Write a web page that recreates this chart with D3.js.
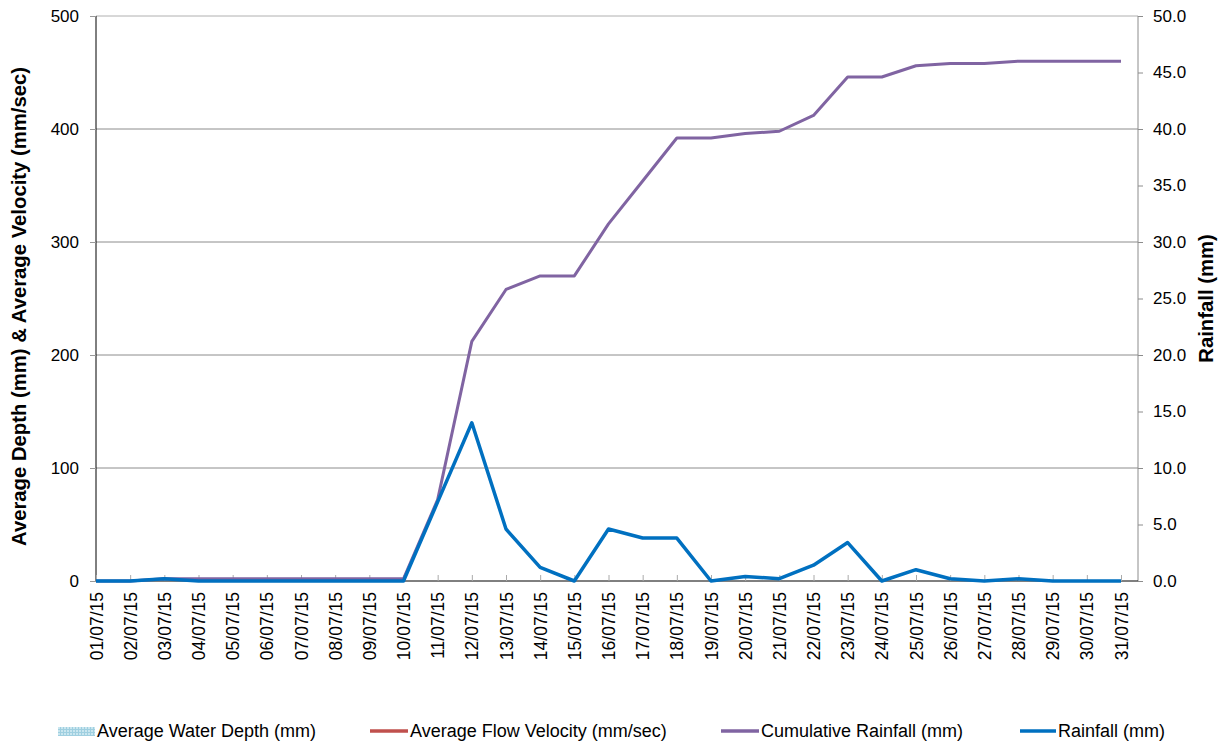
<!DOCTYPE html>
<html><head><meta charset="utf-8">
<script src="https://cdn.jsdelivr.net/npm/d3@7"></script>
<style>body{margin:0;background:#fff;} svg{display:block;font-family:"Liberation Sans",Arial,sans-serif;}</style>
</head><body>
<svg id="chart" width="1223" height="753"></svg>
<script>
const dates = ["01/07/15","02/07/15","03/07/15","04/07/15","05/07/15","06/07/15","07/07/15","08/07/15","09/07/15","10/07/15","11/07/15","12/07/15","13/07/15","14/07/15","15/07/15","16/07/15","17/07/15","18/07/15","19/07/15","20/07/15","21/07/15","22/07/15","23/07/15","24/07/15","25/07/15","26/07/15","27/07/15","28/07/15","29/07/15","30/07/15","31/07/15"];
const rainfall = [0,0,0.2,0,0,0,0,0,0,0,7.0,14.0,4.6,1.2,0,4.6,3.8,3.8,0,0.4,0.2,1.4,3.4,0,1.0,0.2,0,0.2,0,0,0];
const cumulativeRainfall = [0,0,0.2,0.2,0.2,0.2,0.2,0.2,0.2,0.2,7.2,21.2,25.8,27.0,27.0,31.6,35.4,39.2,39.2,39.6,39.8,41.2,44.6,44.6,45.6,45.8,45.8,46.0,46.0,46.0,46.0];
const avgWaterDepth = dates.map(() => null);   // no recorded values
const avgFlowVelocity = dates.map(() => null); // no recorded values
const leftTicks = [0,100,200,300,400,500];
const rightTicks = [0,5,10,15,20,25,30,35,40,45,50];
const legendItems = ["Average Water Depth (mm)","Average Flow Velocity (mm/sec)","Cumulative Rainfall (mm)","Rainfall (mm)"];

const svg = d3.select("#chart");
const L = 96, R = 1138, T = 16, B = 581;
const x = d3.scalePoint().domain(dates).range([L, 1121]);
const yL = d3.scaleLinear().domain([0,500]).range([B, T]);
const yR = d3.scaleLinear().domain([0,50]).range([B, T]);
const FF = "Liberation Sans, Arial, sans-serif";

// gridlines
svg.append("g").selectAll("line").data(leftTicks.filter(d=>d>0)).join("line")
  .attr("x1", L).attr("x2", R).attr("y1", d=>yL(d)).attr("y2", d=>yL(d))
  .attr("stroke", d=> d===500 ? "#b0b0b0" : "#8c8c8c").attr("stroke-width", 1);

// left axis
const gL = svg.append("g").attr("transform", `translate(${L},0)`)
  .call(d3.axisLeft(yL).tickValues(leftTicks).tickSize(6).tickPadding(11).tickFormat(d3.format("d")));
gL.select(".domain").attr("stroke", "#000").attr("d", `M0,${T}V${B}`);
gL.selectAll(".tick line").attr("stroke", "#999");
gL.selectAll("text").attr("font-size", 17).attr("fill", "#000").attr("font-family", FF);

// right axis
const gR = svg.append("g").attr("transform", `translate(${R},0)`)
  .call(d3.axisRight(yR).tickValues(rightTicks).tickSize(5).tickPadding(10).tickFormat(d3.format(".1f")));
gR.select(".domain").attr("stroke", "#8c8c8c").attr("d", `M0,${T}V${B}`);
gR.selectAll(".tick line").attr("stroke", "#8c8c8c");
gR.selectAll("text").attr("font-size", 17).attr("fill", "#000").attr("font-family", FF);

// bottom axis
const gB = svg.append("g").attr("transform", `translate(0,${B})`)
  .call(d3.axisBottom(x).tickSize(-6).tickPadding(0));
gB.select(".domain").attr("stroke", "#000").attr("d", `M${L},0H${R}`);
gB.selectAll(".tick line").attr("stroke", "#aaa");
gB.selectAll("text").attr("font-size", 17.5).attr("fill", "#000").attr("font-family", FF)
  .attr("text-anchor", "end").attr("dy", null).attr("dominant-baseline", "central")
  .attr("transform", "translate(0,11) rotate(-90)");

// axis titles
svg.append("text").attr("transform", `translate(26,${(T+B)/2+8}) rotate(-90)`)
  .attr("text-anchor","middle").attr("font-weight","bold").attr("font-size",20.3)
  .text("Average Depth (mm) & Average Velocity (mm/sec)");
svg.append("text").attr("transform", `translate(1213,${(T+B)/2}) rotate(-90)`)
  .attr("text-anchor","middle").attr("font-weight","bold").attr("font-size",20.3)
  .text("Rainfall (mm)");

// series
const defs = svg.append("defs");
const pat = defs.append("pattern").attr("id","dots").attr("width",3).attr("height",3).attr("patternUnits","userSpaceOnUse");
pat.append("rect").attr("width",3).attr("height",3).attr("fill","#c9e6ef");
pat.append("rect").attr("width",1).attr("height",3).attr("fill","#9fcfe0");
pat.append("rect").attr("width",3).attr("height",1).attr("fill","#9fcfe0");

const area = d3.area().defined(d=>d!=null).x((d,i)=>x(dates[i])).y0(B).y1(d=>yL(d));
svg.append("path").datum(avgWaterDepth).attr("fill","url(#dots)").attr("d", area);
const lineL = d3.line().defined(d=>d!=null).x((d,i)=>x(dates[i])).y(d=>yL(d));
svg.append("path").datum(avgFlowVelocity).attr("fill","none").attr("stroke","#C0504D").attr("stroke-width",3).attr("d", lineL);
const lineR = d3.line().x((d,i)=>x(dates[i])).y(d=>yR(d));
svg.append("path").datum(cumulativeRainfall).attr("fill","none").attr("stroke","#8064A2").attr("stroke-width",3).attr("stroke-linejoin","round").attr("d", lineR);
svg.append("path").datum(rainfall).attr("fill","none").attr("stroke","#0070C0").attr("stroke-width",3.5).attr("stroke-linejoin","round").attr("d", lineR);

// legend
const ly = 731;
const lg = svg.append("g").attr("font-size",18).attr("font-family", FF);
const lx = [58, 370, 721, 1020];
const tx = [97, 410, 761, 1058];
lg.append("rect").attr("x",lx[0]).attr("y",ly-4).attr("width",37).attr("height",9).attr("fill","url(#dots)");
lg.append("line").attr("x1",lx[1]).attr("x2",lx[1]+38).attr("y1",ly).attr("y2",ly).attr("stroke","#C0504D").attr("stroke-width",3.5);
lg.append("line").attr("x1",lx[2]).attr("x2",lx[2]+38).attr("y1",ly).attr("y2",ly).attr("stroke","#8064A2").attr("stroke-width",3.5);
lg.append("line").attr("x1",lx[3]).attr("x2",lx[3]+36).attr("y1",ly).attr("y2",ly).attr("stroke","#0070C0").attr("stroke-width",3.5);
lg.selectAll("text").data(legendItems).join("text")
  .attr("x",(d,i)=>tx[i]).attr("y",ly).attr("dominant-baseline","central").text(d=>d);
</script>
</body></html>
